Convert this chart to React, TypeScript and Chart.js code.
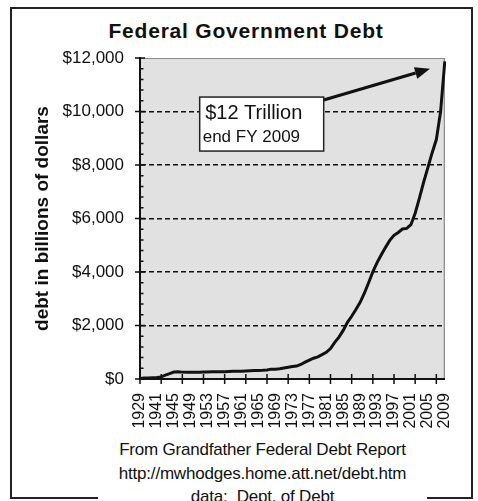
import React, { useEffect, useRef } from 'react';
import { Chart, registerables } from 'chart.js';

Chart.register(...registerables);

const years = [
  1929, 1938, 1939, 1940, 1941, 1942, 1943, 1944, 1945, 1946, 1947, 1948, 1949,
  1950, 1951, 1952, 1953, 1954, 1955, 1956, 1957, 1958, 1959, 1960, 1961, 1962,
  1963, 1964, 1965, 1966, 1967, 1968, 1969, 1970, 1971, 1972, 1973, 1974, 1975,
  1976, 1977, 1978, 1979, 1980, 1981, 1982, 1983, 1984, 1985, 1986, 1987, 1988,
  1989, 1990, 1991, 1992, 1993, 1994, 1995, 1996, 1997, 1998, 1999, 2000, 2001,
  2002, 2003, 2004, 2005, 2006, 2007, 2008, 2009,
];

const debtBillions = [
  17, 37, 40, 51, 58, 79, 143, 204, 260, 271, 257, 252, 253,
  257, 255, 259, 266, 271, 274, 273, 272, 280, 288, 291, 293, 303,
  310, 316, 322, 329, 340, 369, 366, 381, 408, 436, 466, 484, 542,
  629, 706, 777, 830, 909, 995, 1137, 1372, 1565, 1817, 2121, 2346, 2601,
  2868, 3206, 3598, 4002, 4351, 4643, 4921, 5182, 5369, 5478, 5606, 5629, 5770,
  6198, 6760, 7355, 7905, 8451, 8951, 9986, 11876,
];

const yMin = 0;
const yMax = 12000;
const yMajorStep = 2000;
const yMinorStep = 400;
const xLabelEvery = 4;
const xTickEvery = 5;

const titleText = 'Federal Government Debt';
const yTitleText = 'debt in billions of dollars';
const calloutLines = ['$12 Trillion', 'end FY 2009'];
// callout box corner and arrow tip, in data units (category index, billions)
const calloutBox = [14.1, 10540];
const calloutTip = [68.5, 11600];
const footerLines = [
  'From Grandfather Federal Debt Report',
  'http://mwhodges.home.att.net/debt.htm',
  'data:  Dept. of Debt',
];

const FONT = '"Liberation Sans", Arial, sans-serif';

const decorPlugin = {
  id: 'decor',
  beforeDraw(chart: any) {
    const { ctx, chartArea: a } = chart;
    ctx.save();
    ctx.fillStyle = '#e1e1e1';
    ctx.fillRect(a.left, a.top, a.right - a.left, a.bottom - a.top);
    ctx.strokeStyle = '#8a8a8a';
    ctx.lineWidth = 1.2;
    ctx.beginPath();
    ctx.moveTo(a.left, a.top + 0.5);
    ctx.lineTo(a.right - 0.5, a.top + 0.5);
    ctx.lineTo(a.right - 0.5, a.bottom);
    ctx.stroke();
    ctx.restore();
  },
  afterDraw(chart: any) {
    const { ctx, chartArea: a, scales } = chart;
    const xs = scales.x;
    const ys = scales.y;
    ctx.save();
    ctx.strokeStyle = '#111';
    ctx.lineWidth = 1.5;
    ctx.beginPath();
    for (let i = 0; i < years.length; i += xTickEvery) {
      const px = xs.getPixelForValue(i);
      ctx.moveTo(px, a.bottom - 5);
      ctx.lineTo(px, a.bottom + 5);
    }
    for (let v = yMin; v <= yMax; v += yMinorStep) {
      const py = ys.getPixelForValue(v);
      if (v % yMajorStep === 0) {
        ctx.moveTo(a.left - 5, py);
        ctx.lineTo(a.left + 5, py);
      } else {
        ctx.moveTo(a.left, py);
        ctx.lineTo(a.left + 3.5, py);
      }
    }
    ctx.stroke();

    // callout box
    const bx = xs.getPixelForValue(calloutBox[0]);
    const by = ys.getPixelForValue(calloutBox[1]);
    const bw = 124;
    const bh = 54;
    const tx = xs.getPixelForValue(calloutTip[0]);
    const ty = ys.getPixelForValue(calloutTip[1]);
    const sx = bx + bw;
    const sy = by + 3;
    // arrow
    const ang = Math.atan2(ty - sy, tx - sx);
    const headLen = 15;
    const headW = 6;
    const hx = tx - headLen * Math.cos(ang);
    const hy = ty - headLen * Math.sin(ang);
    ctx.strokeStyle = '#111';
    ctx.lineWidth = 3;
    ctx.beginPath();
    ctx.moveTo(sx, sy);
    ctx.lineTo(hx, hy);
    ctx.stroke();
    ctx.fillStyle = '#111';
    ctx.beginPath();
    ctx.moveTo(tx, ty);
    ctx.lineTo(hx + headW * Math.sin(ang), hy - headW * Math.cos(ang));
    ctx.lineTo(hx - headW * Math.sin(ang), hy + headW * Math.cos(ang));
    ctx.closePath();
    ctx.fill();

    ctx.fillStyle = '#fff';
    ctx.fillRect(bx, by, bw, bh);
    ctx.strokeStyle = '#222';
    ctx.lineWidth = 1.5;
    ctx.strokeRect(bx, by, bw, bh);
    ctx.fillStyle = '#111';
    ctx.textBaseline = 'middle';
    ctx.textAlign = 'left';
    ctx.font = `20px ${FONT}`;
    ctx.fillText(calloutLines[0], bx + 5.5, by + 16);
    ctx.font = `17px ${FONT}`;
    ctx.fillText(calloutLines[1], bx + 3, by + 40);
    ctx.restore();
  },
};

export default function App() {
  const canvasRef = useRef<HTMLCanvasElement | null>(null);

  useEffect(() => {
    const canvas = canvasRef.current;
    if (!canvas) return;
    const chart = new Chart(canvas, {
      type: 'line',
      data: {
        labels: years.map(String),
        datasets: [
          {
            data: debtBillions,
            borderColor: '#111',
            borderWidth: 3,
            pointRadius: 0,
            tension: 0,
            fill: false,
          },
        ],
      },
      options: {
        animation: false,
        responsive: false,
        maintainAspectRatio: false,
        events: [],
        layout: { padding: { left: 24, right: 32, top: 58, bottom: 62 } },
        plugins: {
          legend: { display: false },
          tooltip: { enabled: false },
          title: { display: false },
        },
        scales: {
          x: {
            type: 'category',
            offset: false,
            grid: { display: false, drawTicks: false },
            border: { display: true, color: '#111', width: 2 },
            ticks: {
              autoSkip: false,
              maxRotation: 90,
              minRotation: 90,
              padding: 14,
              color: '#111',
              font: { family: FONT, size: 16 },
              callback: (_v: any, i: number) => (i % xLabelEvery === 0 ? String(years[i]) : ''),
            },
            afterFit: (s: any) => {
              s.height = 60;
            },
          },
          y: {
            min: yMin,
            max: yMax,
            grid: {
              drawTicks: false,
              lineWidth: 1.6,
              color: (c: any) =>
                c.tick && (c.tick.value === yMin || c.tick.value === yMax) ? 'rgba(0,0,0,0)' : '#111',
            },
            border: { display: true, color: '#111', width: 2, dash: [5, 3] },
            ticks: {
              stepSize: yMajorStep,
              padding: 16,
              color: '#111',
              font: { family: FONT, size: 17 },
              callback: (v: any) => '$' + Number(v).toLocaleString('en-US'),
            },
            title: {
              display: true,
              text: yTitleText,
              color: '#111',
              font: { family: FONT, size: 19, weight: 'bold' },
              padding: { top: 7, bottom: 0 },
            },
            afterFit: (s: any) => {
              s.width = 116;
            },
          },
        },
      },
      plugins: [decorPlugin],
    });
    return () => chart.destroy();
  }, []);

  return (
    <div
      style={{
        position: 'absolute',
        left: 0,
        top: 0,
        width: 478,
        height: 501,
        overflow: 'hidden',
        background: '#fff',
        fontFamily: FONT,
      }}
    >
      <div
        style={{
          position: 'absolute',
          left: 10,
          top: 7,
          width: 463,
          height: 492,
          boxSizing: 'border-box',
          border: '2px solid #222',
        }}
      />
      <div
        style={{
          position: 'absolute',
          left: 0,
          top: 31 - 14,
          width: 492,
          textAlign: 'center',
          fontWeight: 'bold',
          fontSize: 21,
          lineHeight: '28px',
          letterSpacing: '0.8px',
          color: '#111',
        }}
      >
        {titleText}
      </div>
      <canvas
        ref={canvasRef}
        width={478}
        height={501}
        style={{ position: 'absolute', left: 0, top: 0, width: 478, height: 501 }}
      />
      <div
        style={{
          position: 'absolute',
          left: 98,
          top: 438,
          width: 329,
          height: 80,
          background: '#fff',
          textAlign: 'center',
          fontSize: 17,
          lineHeight: '23.5px',
          color: '#111',
          letterSpacing: '-0.2px',
        }}
      >
        {footerLines.map((l) => (
          <div key={l} style={{ whiteSpace: 'pre' }}>
            {l}
          </div>
        ))}
      </div>
    </div>
  );
}
